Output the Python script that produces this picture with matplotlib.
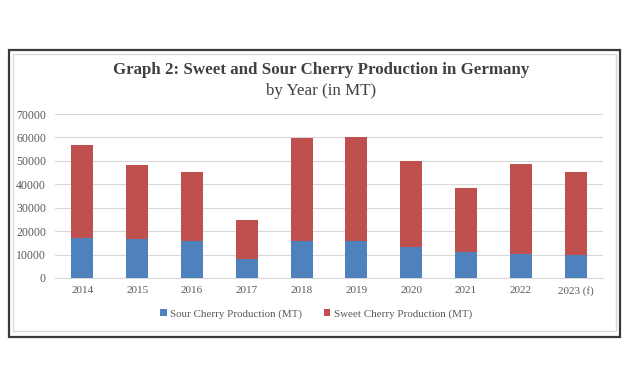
import matplotlib.pyplot as plt
from matplotlib.patches import Rectangle

years = ["2014", "2015", "2016", "2017", "2018", "2019", "2020", "2021", "2022", "2023 (f)"]
sour = [17200, 16800, 15900, 8100, 15800, 15700, 13100, 11000, 10100, 9700]
total = [56800, 48400, 45100, 24600, 59900, 60200, 49800, 38300, 48500, 45200]
sweet = [t - s for t, s in zip(total, sour)]

plt.rcParams['font.family'] = ['Liberation Serif', 'DejaVu Serif']

fig = plt.figure(figsize=(6.26, 3.91), dpi=100)

# outer frame and inner chart border
fig.patches.append(Rectangle((9 / 626, 1 - 337 / 391), 611 / 626, 287 / 391,
                             transform=fig.transFigure, fill=False,
                             edgecolor="#3a3a3a", linewidth=1.6))
fig.patches.append(Rectangle((12.5 / 626, 1 - 331 / 391), 603.5 / 626, 277.5 / 391,
                             transform=fig.transFigure, fill=False,
                             edgecolor="#d9d9d9", linewidth=1.0))

ax = fig.add_axes([55 / 626, 1 - 278 / 391, 548 / 626, 164 / 391])
x = range(len(years))
ax.bar(x, sour, width=0.4, color="#4F81BD", label="Sour Cherry Production (MT)", zorder=3)
ax.bar(x, sweet, width=0.4, bottom=sour, color="#C0504D", label="Sweet Cherry Production (MT)", zorder=3)

ax.set_xlim(-0.5, len(years) - 0.5)
ax.set_ylim(0, 70000)
ax.set_yticks(range(0, 70001, 10000))
ax.set_xticks(list(x))
ax.set_xticklabels(years)
ax.grid(axis="y", color="#d9d9d9", linewidth=0.8, zorder=0)
for s in ["top", "right", "left"]:
    ax.spines[s].set_visible(False)
ax.spines["bottom"].set_color("#d9d9d9")
ax.tick_params(axis="both", length=0, labelsize=8, colors="#595959", pad=6)
ax.tick_params(axis="y", labelsize=8.5, pad=6.5)

fig.text(0.513, 1 - 70 / 391, "Graph 2: Sweet and Sour Cherry Production in Germany",
         ha="center", va="center", fontsize=12.2, fontweight="bold", color="#404040")
fig.text(0.513, 1 - 91 / 391, "by Year (in MT)", ha="center", va="center",
         fontsize=12.2, color="#404040")

fig.legend(loc="center", bbox_to_anchor=(316 / 626, 1 - 314 / 391), ncol=2, frameon=False,
           fontsize=7.9, handlelength=0.6, handleheight=0.6, handletextpad=0.3,
           columnspacing=2.0, labelcolor="#595959")

fig.savefig("out.png", dpi=100)
